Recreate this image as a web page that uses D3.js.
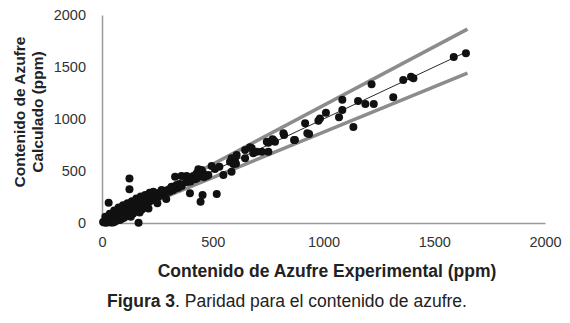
<!DOCTYPE html>
<html><head><meta charset="utf-8">
<script src="https://cdn.jsdelivr.net/npm/d3@7"></script>
<style>body{margin:0;background:#fff}svg{display:block}</style>
</head><body>
<svg id="c" width="570" height="323"></svg>
<script>
const xTicks = [0, 500, 1000, 1500, 2000];
const yTicks = [0, 500, 1000, 1500, 2000];
const expX = [5,10,15,20,25,30,35,40,45,50,55,60,65,70,75,80,85,90,95,100,105,110,115,120,125,130,135,140,145,150,155,160,165,170,175,180,185,190,195,200,205,210,215,220,225,230,235,240,250,255,260,265,270,280,285,290,300,305,310,320,325,330,340,345,350,360,
20,40,60,80,100,120,140,160,180,200,30,50,70,90,110,130,150,170,
15,35,55,75,95,115,135,155,175,195,215,50,90,130,170,210,250,290,
124,124,30,165,
330,359,382,412,337,314,397,454,445,518,450,457,472,495,548,435,427,390,352,322,307,269,232,400,420,380,430,460,480,510,530,578,593,605,585,600,585,608,646,646,668,676,683,698,721,751,744,751,770,781,773,819,822,867,871,917,927,935,977,984,1011,1070,1085,1085,1135,1156,1189,1227,1217,1315,1360,1395,1406,1588,1643];
const calcY = [10,5,20,12,30,18,40,28,50,35,60,45,75,55,85,62,95,70,110,80,120,90,130,100,140,110,155,120,165,130,175,145,185,160,195,170,210,180,220,190,230,200,240,215,250,230,265,245,275,255,290,270,300,285,310,295,320,300,335,315,345,330,360,340,375,355,
2,5,15,30,50,70,90,110,130,150,60,80,100,130,150,175,200,220,
60,90,120,150,170,190,210,235,255,270,290,5,40,60,100,140,190,230,
429,324,195,3,
445,452,452,452,365,349,285,269,205,279,510,478,452,548,462,516,477,397,365,349,317,317,301,400,420,395,430,440,462,520,540,589,567,570,493,606,622,654,702,622,728,718,670,686,686,686,782,772,805,782,798,862,846,798,798,958,862,856,984,1006,1061,1016,1087,1186,923,1173,1144,1144,1333,1208,1375,1407,1391,1596,1632];
const bandMax = 1650;
const bandUpper = 1.13, bandLower = 0.873;

const svg = d3.select("#c");
const x = d3.scaleLinear().domain([0,2000]).range([102,545]);
const y = d3.scaleLinear().domain([0,2000]).range([223,15]);

const line = d3.line().x(d=>x(d[0])).y(d=>y(d[1]));
svg.append("path").attr("d", line([[0,0],[bandMax,bandMax*bandUpper]]))
  .attr("stroke","#8c8c8c").attr("stroke-width",3.5).attr("fill","none");
svg.append("path").attr("d", line([[0,0],[bandMax,bandMax*bandLower]]))
  .attr("stroke","#8c8c8c").attr("stroke-width",3.5).attr("fill","none");

const ff = "Liberation Sans, Arial, sans-serif";
const xa = svg.append("g").attr("transform","translate(0,223)")
  .call(d3.axisBottom(x).tickValues(xTicks).tickSize(0).tickPadding(14).tickFormat(d3.format("d")));
const ya = svg.append("g").attr("transform","translate(102,0)")
  .call(d3.axisLeft(y).tickValues(yTicks).tickSize(0).tickPadding(16).tickFormat(d3.format("d")));
[xa,ya].forEach(g=>{
  g.select(".domain").attr("stroke","#9a9a9a").attr("stroke-width",1.5);
  g.selectAll("text").attr("font-family",ff).attr("font-size",14.5).attr("fill","#333");
});

const pts = expX.map((v,i)=>[v, calcY[i]]);
svg.append("g").selectAll("circle").data(pts).join("circle")
  .attr("cx",d=>x(d[0])).attr("cy",d=>y(d[1])).attr("r",4).attr("fill","#111");

svg.append("path").attr("d", line([[0,0],[bandMax,bandMax]]))
  .attr("stroke","#111").attr("stroke-width",0.9).attr("fill","none");

const yt = svg.append("text").attr("transform","translate(25,112) rotate(-90)")
  .attr("text-anchor","middle").attr("font-family",ff).attr("font-weight","bold").attr("font-size",15.5).attr("fill","#222");
yt.append("tspan").attr("x",0).attr("dy",0).text("Contenido de Azufre");
yt.append("tspan").attr("x",0).attr("dy",18).text("Calculado (ppm)");

svg.append("text").attr("x",327).attr("y",277).attr("text-anchor","middle")
  .attr("font-family",ff).attr("font-weight","bold").attr("font-size",17.5).attr("fill","#222")
  .text("Contenido de Azufre Experimental (ppm)");

const cap = svg.append("text").attr("x",107).attr("y",307)
  .attr("font-family",ff).attr("font-size",17.5).attr("fill","#222");
cap.append("tspan").attr("font-weight","bold").text("Figura 3");
cap.append("tspan").text(". Paridad para el contenido de azufre.");
</script>
</body></html>
